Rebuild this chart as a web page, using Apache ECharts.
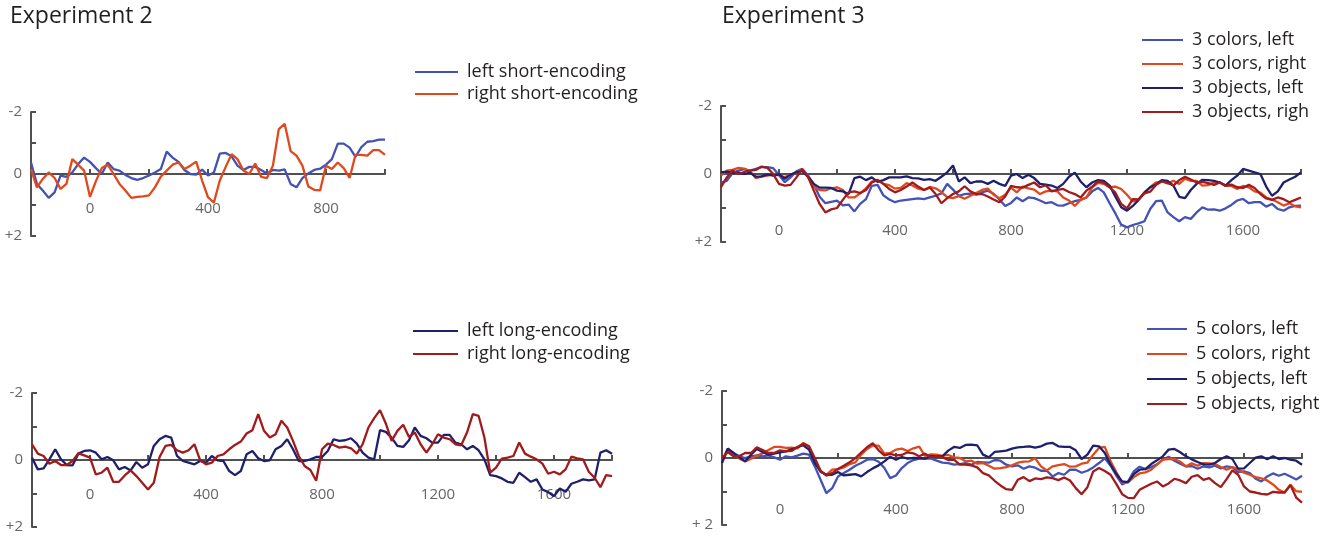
<!DOCTYPE html>
<html>
<head>
<meta charset="utf-8">
<script src="https://cdn.jsdelivr.net/npm/echarts@6/dist/echarts.min.js"></script>
<style>
html,body{margin:0;padding:0;background:#fff;}
#chart{width:1341px;height:537px;}
</style>
</head>
<body>
<div id="chart"></div>
<script>
// ---- time grids (ms) ----
const timesShort = [-200,-180,-160,-140,-120,-100,-80,-60,-40,-20,0,20,40,60,80,100,120,140,160,180,200,220,240,260,280,300,320,340,360,380,400,420,440,460,480,500,520,540,560,580,600,620,640,660,680,700,720,740,760,780,800,820,840,860,880,900,920,940,960,980,1000];
const timesLong = [-200,-180,-160,-140,-120,-100,-80,-60,-40,-20,0,20,40,60,80,100,120,140,160,180,200,220,240,260,280,300,320,340,360,380,400,420,440,460,480,500,520,540,560,580,600,620,640,660,680,700,720,740,760,780,800,820,840,860,880,900,920,940,960,980,1000,1020,1040,1060,1080,1100,1120,1140,1160,1180,1200,1220,1240,1260,1280,1300,1320,1340,1360,1380,1400,1420,1440,1460,1480,1500,1520,1540,1560,1580,1600,1620,1640,1660,1680,1700,1720,1740,1760,1780,1800];

// ---- tick labels ----
const xTickLabels = [0,400,800,1200,1600];
const yTickLabelsA = {'-2':'-2','0':'0','2':'+2'};
const yTickLabelsB = {'-2':'-2','0':'0','2':'+ 2'};

// ---- Experiment 2 ----
const leftShort = [-0.37,0.32,0.53,0.77,0.59,0.05,0.09,-0.05,-0.32,-0.53,-0.39,-0.19,0,-0.37,-0.16,-0.11,0.03,0.13,0.19,0.13,0.05,-0.05,-0.16,-0.72,-0.53,-0.39,-0.13,0,0.02,-0.14,0.05,-0.05,-0.66,-0.68,-0.57,-0.27,-0.13,-0.23,-0.23,-0.13,-0.02,-0.13,-0.11,-0.15,0.32,0.43,0.13,-0.02,-0.13,-0.17,-0.30,-0.48,-0.98,-0.98,-0.85,-0.55,-0.87,-1.04,-1.06,-1.11,-1.11];
const rightShort = [-0.16,0.43,0.16,-0.05,0.13,0.48,0.32,-0.48,-0.30,-0.11,0.74,0.23,-0.19,-0.30,0,0.32,0.53,0.77,0.74,0.72,0.69,0.43,0.09,-0.11,-0.30,-0.37,-0.16,-0.27,-0.40,0.21,0.75,0.92,0.21,-0.23,-0.64,-0.48,-0.11,0,-0.34,0.09,0.13,-0.27,-1.45,-1.62,-0.74,-0.59,-0.27,0.40,0.51,0.53,-0.27,-0.16,-0.37,-0.19,0.13,-0.62,-0.62,-0.59,-0.77,-0.77,-0.62];
const leftLong = [-0.07,0.28,0.25,-0.02,-0.32,-0.02,0.15,0.16,-0.19,-0.27,-0.29,-0.22,-0.02,-0.09,0.01,0.28,0.21,0.31,0.06,0.23,0.13,-0.42,-0.62,-0.72,-0.67,-0.12,0.03,0.08,0.13,0.03,0.08,-0.12,0.01,0.03,0.33,0.45,0.33,-0.17,-0.27,-0.05,0.03,0.01,-0.32,-0.42,-0.62,-0.32,0.03,0.03,-0.02,-0.09,
  -0.09,-0.27,-0.62,-0.57,-0.59,-0.65,-0.49,-0.22,-0.07,-0.02,-0.89,-0.84,-0.67,-0.42,-0.39,-0.59,-0.97,-0.72,-0.65,-0.52,-0.52,-0.75,-0.75,-0.52,-0.47,-0.32,-0.42,-0.29,-0.02,0.45,0.48,0.55,0.65,0.68,0.38,0.51,0.65,0.58,0.88,0.96,1.08,0.85,0.95,0.71,0.65,0.58,0.61,0.58,-0.22,-0.29,-0.19];
const rightLong = [-0.47,-0.19,-0.12,0.11,0.03,0.15,0.15,0.03,-0.2,-0.14,-0.07,0.43,0.38,0.23,0.65,0.65,0.46,0.31,0.48,0.68,0.88,0.68,-0.09,-0.42,-0.45,-0.29,-0.22,-0.29,-0.47,0.01,0.13,0.08,-0.12,-0.17,-0.32,-0.45,-0.55,-0.79,-0.89,-1.37,-0.87,-0.67,-0.77,-1.17,-0.97,-0.57,-0.12,0.18,0.30,0.62,
  -0.32,-0.49,-0.45,-0.37,-0.40,-0.35,-0.19,-0.47,-0.97,-1.25,-1.49,-1.09,-0.57,-0.87,-1.05,-0.69,-0.82,-0.47,-0.22,-0.47,-0.77,-0.67,-0.62,-0.47,-0.44,-0.82,-1.37,-1.32,-0.67,0.38,0.23,-0.04,-0.07,-0.12,-0.52,-0.19,-0.1,-0.02,0.11,0.41,0.35,0.43,0.28,-0.1,-0.05,-0.02,0.35,0.53,0.81,0.45,0.48];

// ---- Experiment 3, set size 3 ----
const colors3Left = [0.25,0.20,-0.03,-0.10,-0.14,-0.10,-0.15,-0.20,-0.20,-0.17,0.03,0.24,0.10,-0.08,-0.15,0.04,0.31,0.67,0.86,0.82,0.78,0.92,0.90,1.10,0.88,0.74,0.35,0.32,0.63,0.75,0.83,0.78,0.76,0.74,0.72,0.74,0.69,0.64,0.57,0.29,0.46,0.64,0.59,0.58,0.61,0.54,0.49,0.58,0.75,0.94,
  0.85,0.69,0.80,0.69,0.71,0.78,0.86,0.83,0.92,0.93,0.86,0.80,0.76,0.69,0.51,0.41,0.54,0.86,1.16,1.49,1.57,1.50,1.45,1.39,1.03,0.80,0.78,1.13,1.27,1.39,1.27,1.32,1.13,0.98,1.05,1.04,1.08,1.01,0.91,0.78,0.73,0.86,0.83,0.83,0.96,0.88,1.03,1.08,0.98,0.94,0.93];
const colors3Right = [0.05,-0.10,-0.12,-0.18,-0.16,-0.08,0.12,0.08,0.05,0.01,0.04,0.09,0.02,-0.04,-0.14,0.07,0.37,0.47,0.48,0.42,0.39,0.47,0.69,0.69,0.57,0.42,0.22,0.17,0.29,0.33,0.43,0.41,0.27,0.34,0.43,0.47,0.38,0.42,0.53,0.68,0.71,0.65,0.73,0.64,0.56,0.47,0.43,0.61,0.71,0.61,
  0.40,0.54,0.37,0.42,0.46,0.59,0.51,0.49,0.51,0.69,0.78,0.94,0.76,0.69,0.39,0.26,0.29,0.39,0.37,0.44,0.61,0.81,0.75,0.54,0.39,0.25,0.21,0.28,0.20,0.29,0.14,0.20,0.20,0.34,0.33,0.24,0.25,0.34,0.35,0.44,0.35,0.39,0.51,0.55,0.69,0.75,0.83,0.93,0.86,0.95,0.98];
const objects3Left = [-0.05,-0.07,-0.03,-0.04,0,-0.04,0.08,0.07,0.01,0.05,0.01,0.14,0.02,-0.05,-0.09,0.09,0.29,0.40,0.40,0.41,0.49,0.51,0.59,0.12,0.08,0.18,0.10,0.23,0.18,0.10,0.10,0.10,0.07,0.12,0.13,0.17,0.15,0.20,0.08,-0.05,-0.25,0.22,0.10,0.27,0.22,0.22,0.29,0.20,0.29,0.35,
  0.05,0,0.12,0.02,0.12,0.29,0.31,0.34,0.41,0.29,0.08,-0.04,0.22,0.39,0.25,0.18,0.20,0.34,0.67,0.98,1.08,0.94,0.76,0.55,0.39,0.31,0.18,0.20,0.34,0.67,0.71,0.47,0.29,0.17,0.18,0.20,0.25,0.34,0.18,0.05,-0.15,-0.10,-0.05,0,0.37,0.64,0.51,0.25,0.16,0.08,-0.05];
const objects3Right = [0.39,0.10,-0.10,0,-0.06,-0.10,-0.12,-0.22,-0.18,0,0.29,0.34,0.32,0.10,-0.14,0.08,0.49,0.88,1.13,1.04,1.00,0.76,0.54,0.51,0.56,0.47,0.25,0.18,0.29,0.44,0.54,0.47,0.37,0.25,0.37,0.47,0.40,0.59,0.86,0.71,0.59,0.51,0.36,0.51,0.59,0.59,0.66,0.75,0.83,0.66,
  0.35,0.39,0.40,0.32,0.25,0.39,0.33,0.51,0.47,0.44,0.53,0.59,0.69,0.49,0.37,0.22,0.25,0.39,0.55,0.88,1.01,0.74,0.75,0.57,0.52,0.32,0.22,0.26,0.34,0.18,0.08,0.16,0.25,0.23,0.27,0.32,0.25,0.35,0.31,0.39,0.41,0.32,0.41,0.59,0.72,0.76,0.69,0.74,0.83,0.76,0.69];

// ---- Experiment 3, set size 5 ----
const colors5Left = [0.10,-0.28,-0.14,-0.05,0,-0.05,-0.08,-0.05,-0.08,-0.02,0.05,-0.05,-0.02,-0.07,-0.13,-0.10,0.25,0.65,1.05,0.90,0.55,0.45,0.35,0.23,0.15,0.05,0.03,0.11,0.30,0.60,0.52,0.30,0.15,0.06,0.02,0.02,0.01,0.08,0.14,0.15,0.20,0.18,0.15,0.20,0.12,0.13,0.14,0.06,0.08,0.20,
  0.25,0.22,0.32,0.25,0.29,0.38,0.38,0.55,0.45,0.50,0.35,0.35,0.44,0.38,0.28,0.15,0.01,0.23,0.53,0.79,0.70,0.40,0.26,0.33,0.27,0.19,0.05,-0.04,0.08,0.17,0.25,0.24,0.32,0.25,0.28,0.23,0.31,0.25,0.28,0.42,0.40,0.45,0.62,0.70,0.55,0.46,0.53,0.47,0.55,0.64,0.53];
const colors5Right = [0.05,-0.20,-0.12,0.02,0.10,0.02,-0.07,-0.14,-0.24,-0.33,-0.33,-0.30,-0.31,-0.29,-0.45,-0.35,0.10,0.42,0.50,0.35,0.33,0.28,0.18,0.13,-0.10,-0.27,-0.37,-0.37,-0.13,-0.15,-0.25,-0.28,-0.21,-0.29,-0.34,-0.06,-0.11,-0.10,-0.06,-0.09,-0.02,0,0.10,0.08,0.17,0.15,0.23,0.32,0.30,0.27,
  0.22,0.14,0.11,0.10,0.01,0.25,0.37,0.25,0.21,0.18,0.26,0.25,0.17,0.14,-0.10,-0.30,-0.33,0.10,0.43,0.74,0.73,0.57,0.46,0.43,0.35,0.20,0.05,0.03,0.03,0.11,0.25,0.16,0.23,0.15,0.16,0.18,0.27,0.35,0.27,0.34,0.44,0.50,0.57,0.61,0.67,0.79,0.95,1.03,0.80,0.99,1.01];
const objects5Left = [0.15,-0.28,-0.15,-0.02,0.10,-0.10,-0.27,-0.18,-0.10,-0.13,-0.17,-0.20,-0.26,-0.32,-0.38,-0.25,0.15,0.40,0.50,0.50,0.42,0.52,0.50,0.48,0.55,0.42,0.31,0.22,0.10,-0.04,0.05,-0.03,0.02,0,0,0.02,-0.06,-0.05,-0.05,-0.22,-0.33,-0.30,-0.39,-0.40,-0.38,-0.10,-0.02,-0.18,-0.20,-0.22,
  -0.28,-0.32,-0.33,-0.35,-0.31,-0.35,-0.43,-0.45,-0.35,-0.33,-0.33,-0.23,0.03,-0.10,-0.37,-0.35,-0.15,0.20,0.48,0.70,0.72,0.48,0.35,0.33,0.18,0.07,-0.05,-0.25,-0.27,-0.17,-0.05,0.04,0.12,0.19,0.20,0.15,0.03,-0.05,0.03,0.32,0.31,0.15,-0.01,-0.05,0.04,-0.05,0.03,0,0.05,0.08,0.20];
const objects5Right = [0,-0.18,-0.05,-0.06,-0.15,-0.15,-0.32,-0.24,-0.15,-0.15,-0.23,-0.20,-0.21,-0.33,-0.42,-0.35,0,0.38,0.53,0.45,0.33,0.23,0.13,0,-0.16,-0.32,-0.44,-0.23,-0.08,-0.12,-0.08,-0.09,-0.17,-0.14,-0.05,-0.13,-0.03,-0.05,-0.02,0.06,0.05,0.20,0.20,0.22,0.28,0.45,0.52,0.68,0.82,0.93,
  0.95,0.65,0.57,0.69,0.61,0.63,0.58,0.60,0.66,0.58,0.67,0.90,1.08,0.87,0.40,0.30,0.39,0.50,0.78,1.08,1.19,1.20,0.95,0.86,0.77,0.70,0.85,0.76,0.62,0.67,0.75,0.56,0.51,0.65,0.60,0.75,0.87,0.63,0.37,0.50,0.85,1.00,1.03,1.07,1.09,1.01,1.03,1.03,0.81,1.18,1.33];

// ---- styling ----
const FONT = '"Open Sans", "Noto Sans", sans-serif';
const AXIS = '#505050';
const LABEL = '#666666';
const C_BLUE = '#4352b4', C_ORANGE = '#e0491b', C_NAVY = '#1f206c', C_DRED = '#a11a1c';

function zip(ts, vs){ return ts.map((t,i)=>[t, vs[i]]); }

function xAx(gi, max, margin){
  return {
    gridIndex: gi, type:'value', min:-200, max:max, interval:200,
    axisLine:{show:true, onZero:true, lineStyle:{color:AXIS, width:2}},
    axisTick:{show:true, inside:true, length:5, lineStyle:{color:AXIS, width:2}},
    axisLabel:{margin:margin, color:LABEL, fontSize:15, fontFamily:FONT,
      formatter: v => xTickLabels.indexOf(v) >= 0 && v < max ? String(v) : ''},
    splitLine:{show:false}
  };
}
function yAx(gi, labels){
  return {
    gridIndex: gi, type:'value', inverse:true, min:-2, max:2, interval:1,
    axisLine:{show:true, onZero:false, lineStyle:{color:AXIS, width:2}},
    axisTick:{show:true, inside:true, length:5, lineStyle:{color:AXIS, width:2}},
    axisLabel:{margin:9, color:LABEL, fontSize:15, fontFamily:FONT,
      formatter: v => labels[String(v)] !== undefined ? labels[String(v)] : ''},
    splitLine:{show:false}
  };
}
function ser(name, gi, ts, vs, color){
  return {
    name:name, type:'line', xAxisIndex:gi, yAxisIndex:gi,
    data: zip(ts, vs), showSymbol:false, symbol:'none',
    lineStyle:{color:color, width:2.3}, itemStyle:{color:color},
    animation:false, z:3
  };
}
function leg(names, left, top, gap, iw){
  return {
    data: names, orient:'vertical', left:left, top:top, padding:5,
    icon:'rect', itemWidth:iw, itemHeight:2, itemGap:gap,
    selectedMode:false,
    textStyle:{fontSize:18, fontFamily:FONT, color:'#231f20', lineHeight:20, padding:[0,0,0,4]}
  };
}

const option = {
  backgroundColor:'#ffffff',
  animation:false,
  title:[
    {text:'Experiment 2', left:10, top:5, padding:0, textStyle:{fontSize:23, fontWeight:'normal', color:'#231f20', fontFamily:FONT}},
    {text:'Experiment 3', left:722, top:5, padding:0, textStyle:{fontSize:23, fontWeight:'normal', color:'#231f20', fontFamily:FONT}}
  ],
  grid:[
    {left:31, top:112, width:354, height:124},
    {left:32, top:393, width:580, height:134},
    {left:721, top:106, width:580, height:136},
    {left:722, top:391, width:580, height:134}
  ],
  xAxis:[ xAx(0,1000,-35), xAx(1,1800,-40), xAx(2,1800,-19), xAx(3,1800,-23) ],
  yAxis:[ yAx(0,yTickLabelsA), yAx(1,yTickLabelsA), yAx(2,yTickLabelsA), yAx(3,yTickLabelsB) ],
  legend:[
    leg(['left short-encoding','right short-encoding'], 410, 57, 2, 43),
    leg(['left long-encoding','right long-encoding'], 408, 316, 3, 45),
    leg(['3 colors, left','3 colors, right','3 objects, left','3 objects, righ'], 1137, 25, 4, 41),
    leg(['5 colors, left','5 colors, right','5 objects, left','5 objects, right'], 1142, 314, 5, 40)
  ],
  series:[
    ser('left short-encoding', 0, timesShort, leftShort, C_BLUE),
    ser('right short-encoding', 0, timesShort, rightShort, C_ORANGE),
    ser('left long-encoding', 1, timesLong, leftLong, C_NAVY),
    ser('right long-encoding', 1, timesLong, rightLong, C_DRED),
    ser('3 colors, left', 2, timesLong, colors3Left, C_BLUE),
    ser('3 colors, right', 2, timesLong, colors3Right, C_ORANGE),
    ser('3 objects, left', 2, timesLong, objects3Left, C_NAVY),
    ser('3 objects, righ', 2, timesLong, objects3Right, C_DRED),
    ser('5 colors, left', 3, timesLong, colors5Left, C_BLUE),
    ser('5 colors, right', 3, timesLong, colors5Right, C_ORANGE),
    ser('5 objects, left', 3, timesLong, objects5Left, C_NAVY),
    ser('5 objects, right', 3, timesLong, objects5Right, C_DRED)
  ]
};

const chart = echarts.init(document.getElementById('chart'), null, {renderer:'canvas'});
chart.setOption(option);
</script>
</body>
</html>
